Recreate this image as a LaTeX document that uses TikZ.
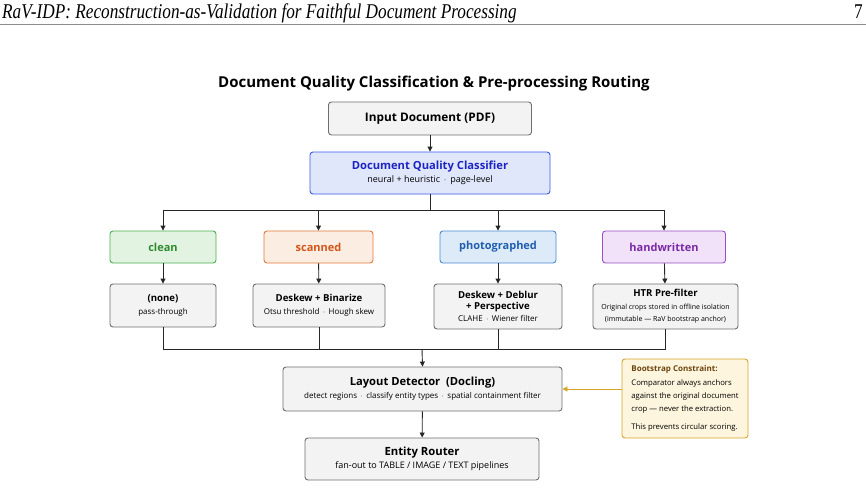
\documentclass[tikz,border=0pt]{standalone}
\usepackage{fontspec}
\setmainfont{Open Sans}
\newfontfamily\hdrfont[FakeStretch=0.82]{Liberation Serif}
\usetikzlibrary{arrows.meta}

\definecolor{linegray}{HTML}{6E6E6E}
\definecolor{boxfill}{HTML}{F3F3F3}
\definecolor{clffill}{HTML}{E1E7FB}
\definecolor{clfline}{HTML}{3A5BE8}
\definecolor{clftext}{HTML}{1C24C4}
\definecolor{cleanfill}{HTML}{E3F3E1}
\definecolor{cleanline}{HTML}{4CAF50}
\definecolor{cleantext}{HTML}{2E8B2E}
\definecolor{scanfill}{HTML}{FCEDE2}
\definecolor{scanline}{HTML}{E07A3A}
\definecolor{scantext}{HTML}{D2551A}
\definecolor{photofill}{HTML}{DDEAF8}
\definecolor{photoline}{HTML}{4A8AD2}
\definecolor{phototext}{HTML}{1F5FB0}
\definecolor{handfill}{HTML}{F1E2F9}
\definecolor{handline}{HTML}{9A50C2}
\definecolor{handtext}{HTML}{7A2AA4}
\definecolor{bootfill}{HTML}{FDF5DD}
\definecolor{bootline}{HTML}{D8A42A}
\definecolor{boottext}{HTML}{6B4410}

\newcommand{\hd}[1]{{\fontsize{11.2}{13}\selectfont\bfseries #1}}
\newcommand{\st}[1]{{\fontsize{9.6}{11.5}\selectfont\bfseries #1}}
\newcommand{\sm}[1]{{\fontsize{8}{10}\selectfont #1}}
\newcommand{\smb}[1]{{\fontsize{9}{11}\selectfont #1}}
\newcommand{\nt}[1]{{\fontsize{7.7}{10}\selectfont #1}}

\begin{document}
\begin{tikzpicture}[x=1pt, y=-1pt,
    box/.style={draw=linegray, fill=boxfill, rounded corners=3pt, line width=0.9pt,
      align=center, inner sep=0pt},
    tag/.style={box, minimum height=32pt, font=\fontsize{11}{13}\selectfont\bfseries},
    arr/.style={-{Triangle[length=5pt, width=5pt]}, line width=0.9pt, draw=black!85},
    wire/.style={line width=0.9pt, draw=black!85}]
  \useasboundingbox (0, 0) rectangle (866, 487);

  % page header
  \node [anchor=base west, inner sep=0pt] (head) at (2, 19)
    {\hdrfont\itshape\fontsize{21}{24}\selectfont RaV-IDP: Reconstruction-as-Validation for Faithful Document Processing};
  \node [anchor=base east, inner sep=0pt] (pnum) at (863, 19) {\hdrfont\fontsize{21}{24}\selectfont 7};
  \draw [black!45, line width=0.8pt] (0, 24.5) -- (866, 24.5);

  \node (title) at (434, 84) {\fontsize{15}{18}\selectfont\bfseries Document Quality Classification \& Pre-processing Routing};

  % input + classifier
  \node [box, minimum width=203pt, minimum height=33pt] (input) at (430, 118.5)
    {{\fontsize{11.8}{14}\selectfont\bfseries Input Document (PDF)}};
  \node [box, fill=clffill, draw=clfline, minimum width=240pt, minimum height=42pt] (clf) at (430, 173)
    {{\color{clftext}\hd{Document Quality Classifier}}\\[1pt]\smb{neural + heuristic \,$\cdot$\, page-level}};
  \draw [arr] (input) -- (clf);

  % quality classes
  \node [tag, fill=cleanfill, draw=cleanline, text=cleantext, minimum width=106pt] (clean) at (163, 247) {clean};
  \node [tag, fill=scanfill, draw=scanline, text=scantext, minimum width=109pt] (scan) at (318.5, 247) {scanned};
  \node [tag, fill=photofill, draw=photoline, text=phototext, minimum width=116pt] (photo) at (498, 247) {photographed};
  \node [tag, fill=handfill, draw=handline, text=handtext, minimum width=123pt] (hand) at (664, 247) {handwritten};

  \coordinate (split) at (430, 210);
  \draw [wire] (clf.south) -- (split);
  \draw [wire] (clean.north |- split) -- (hand.north |- split);
  \foreach \c in {clean, scan, photo, hand}
    \draw [arr] (\c.north |- split) -- (\c.north);

  % pre-processing steps
  \node [box, minimum width=106pt, minimum height=43pt] (none) at (163, 305.5)
    {\st{(none)}\\[1pt]\sm{pass-through}};
  \node [box, minimum width=132pt, minimum height=43pt] (binar) at (319, 305.5)
    {\st{Deskew + Binarize}\\[1pt]\sm{Otsu threshold \,$\cdot$\, Hough skew}};
  \node [box, minimum width=128pt, minimum height=45pt] (deblur) at (498, 306.5)
    {\st{Deskew + Deblur}\\[-0.5pt]\st{+ Perspective}\\[0pt]\sm{CLAHE \,$\cdot$\, Wiener filter}};
  \node [box, minimum width=145pt, minimum height=45pt] (htr) at (665.5, 306.5)
    {\st{HTR Pre-filter}\\[1pt]{\fontsize{7}{9}\selectfont Original crops stored in offline isolation}\\
     {\fontsize{7}{9}\selectfont (immutable --- RaV bootstrap anchor)}};

  \draw [arr] (clean) -- (none);
  \draw [arr] (scan) -- (binar);
  \draw [arr] (photo) -- (deblur);
  \draw [arr] (hand) -- (htr);

  % merge into layout detector
  \node [box, minimum width=279pt, minimum height=44pt] (layout) at (422.5, 389)
    {\hd{Layout Detector \ (Docling)}\\[1pt]\sm{detect regions \,$\cdot$\, classify entity types \,$\cdot$\, spatial containment filter}};
  \node [box, minimum width=234pt, minimum height=42pt] (router) at (422, 459)
    {{\fontsize{11.3}{13}\selectfont\bfseries Entity Router}\\[1pt]\smb{fan-out to TABLE / IMAGE / TEXT pipelines}};

  \coordinate (merge) at (422, 349);
  \foreach \s in {none, binar, deblur, htr}
    \draw [wire] (\s.south) -- (\s.south |- merge);
  \draw [wire] (none.south |- merge) -- (htr.south |- merge);
  \draw [arr] (merge) -- (layout.north);
  \draw [arr] (layout) -- (router);

  % bootstrap note
  \node [box, fill=bootfill, draw=bootline, minimum width=126pt, minimum height=79pt,
    align=left] (boot) at (685, 398.5)
    {{\fontsize{8}{10}\selectfont\bfseries\color{boottext}Bootstrap Constraint:}\\[2pt]
     \nt{Comparator always anchors}\\[1pt]
     \nt{against the original document}\\[1pt]
     \nt{crop --- never the extraction.}\\[6pt]
     \nt{This prevents circular scoring.}};
  \draw [arr, draw=bootline, fill=bootline] (boot.west |- layout.east) -- (layout.east);
\end{tikzpicture}
\end{document}
